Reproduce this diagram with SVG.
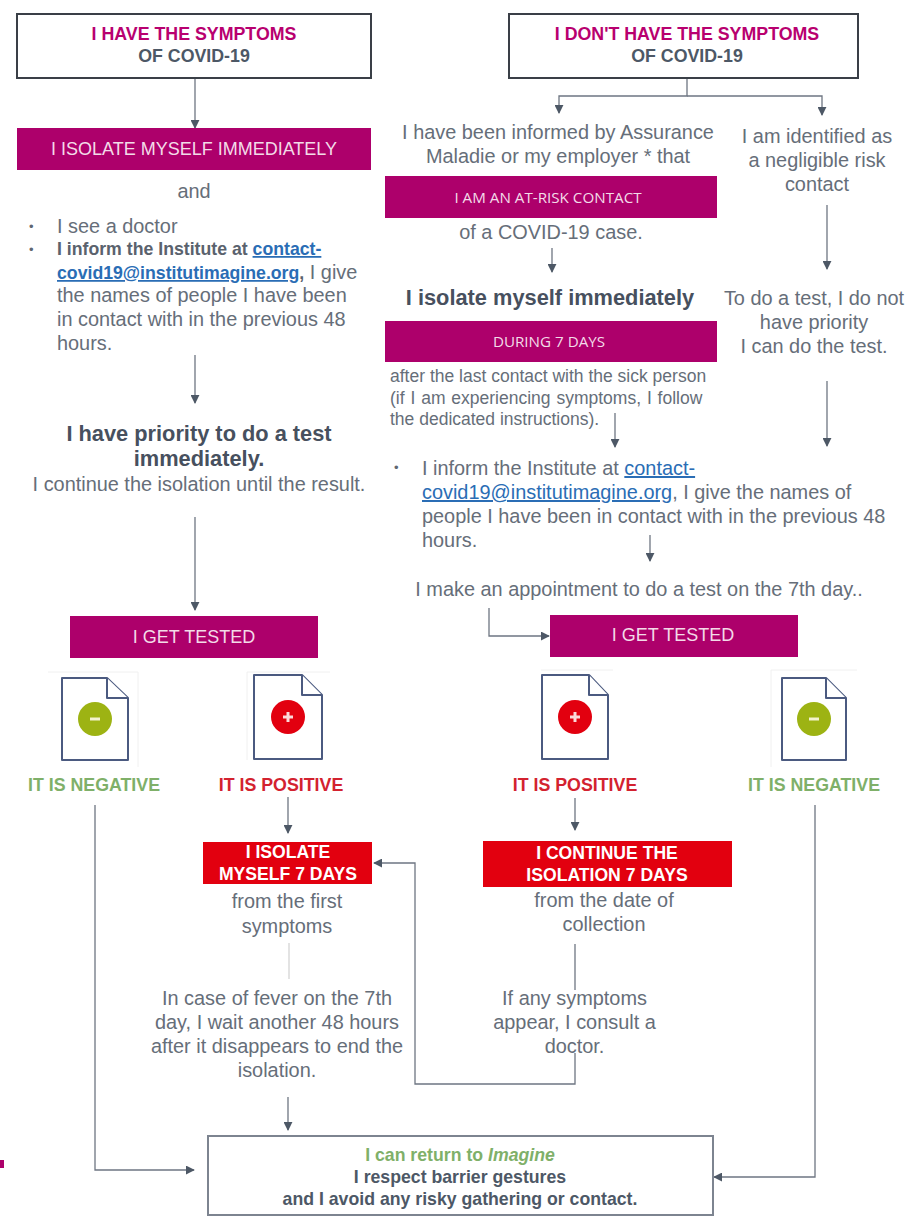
<svg xmlns="http://www.w3.org/2000/svg" width="910" height="1217" viewBox="0 0 910 1217">
<style>
text{font-family:"Liberation Sans",Arial,sans-serif;fill:#666e79;font-size:19.9px}
.c{text-anchor:middle}
.bul{font-size:13px;fill:#5f6772}
.bs{font-weight:bold;font-size:17.7px;fill:#5a626d}
.w{fill:#f3dbe8;font-size:18px}
.os{fill:#f3dbe8;font-size:15.200px;font-family:"Open Sans",sans-serif}
.wb{fill:#fff;font-weight:bold;font-size:17.6px}
.pk{fill:#b8006f;font-weight:bold;font-size:17.8px}
.hd{fill:#4d5866;font-weight:bold;font-size:17.8px}
.big{fill:#47505e;font-weight:bold;font-size:21.8px}
.sm{font-size:17.500px}
.lnk{fill:#2a6db5;text-decoration:underline}
.grn{fill:#7fb069;font-weight:bold;font-size:17.800px}
.red{fill:#d3222f;font-weight:bold;font-size:17.800px}
.ret{font-weight:bold;font-size:17.700px;fill:#4d5866}
.mag{fill:#ad006b}
.rd{fill:#e2000f}
.box{fill:#fff;stroke:#3a3f47;stroke-width:2}
.gbox{fill:#fff;stroke:#7d8490;stroke-width:2}
.doc{fill:#fff;stroke:#4b5a80;stroke-width:2;stroke-linejoin:round}
.la{fill:none;stroke:#6e7682;stroke-width:1.3;marker-end:url(#a)}
.ln{fill:none;stroke:#6e7682;stroke-width:1.3}
.pale{fill:none;stroke:#d0d0d0;stroke-width:1.200}
.fr{fill:none;stroke:#f0f0f0;stroke-width:1}
</style>
<defs><marker id="a" viewBox="0 0 10 10" refX="9" refY="5" markerWidth="9" markerHeight="9" markerUnits="userSpaceOnUse" orient="auto"><path d="M0 0L10 5L0 10Z" fill="#4d5866"/></marker></defs>
<g id="connectors">
<path class="la" d="M195 78V128"/>
<path class="la" d="M195 355V403"/>
<path class="la" d="M195 517V610"/>
<path class="la" d="M687 78V96H559V113"/>
<path class="la" d="M687 96H822V115"/>
<path class="la" d="M552 248V272"/>
<path class="la" d="M827 205V269"/>
<path class="la" d="M827 381V446"/>
<path class="la" d="M615 413V447"/>
<path class="la" d="M650 535V561"/>
<path class="la" d="M489 608V636H549"/>
<path class="la" d="M288 797V833"/>
<path class="la" d="M575 798V830"/>
<path class="la" d="M95 805V1170H194"/>
<path class="la" d="M815 805V1177H714"/>
<path class="ln" d="M575 944V990"/>
<path class="la" d="M575 1053V1084H415V863H374"/>
<path class="pale" d="M289 943V979"/>
<path class="la" d="M288 1097V1130"/>
<path class="fr" d="M48 672H138V767M247 760V672H330M541 670H613M771 767V670H857"/>
</g>
<g id="n-symptoms"><rect class="box" x="17" y="14" width="354" height="64"/><text class="c pk" x="194" y="40">I HAVE THE SYMPTOMS</text><text class="c hd" x="194" y="62">OF COVID-19</text></g>
<g id="n-isolate"><rect class="mag" x="17" y="128" width="354" height="42"/><text class="c w" x="194" y="155">I ISOLATE MYSELF IMMEDIATELY</text></g>
<g id="n-and"><text class="c" x="194" y="198">and</text></g>
<g id="n-actions">
<text class="bul" x="29" y="231">•</text><text x="57" y="233">I see a doctor</text>
<text class="bul" x="29" y="254">•</text><text class="bs" x="57" y="255">I inform the Institute at <tspan class="lnk">contact-</tspan></text>
<text x="57" y="279"><tspan class="lnk bs">covid19@institutimagine.org</tspan><tspan class="bs">,</tspan> I give</text>
<text x="57" y="302">the names of people I have been</text>
<text x="57" y="326">in contact with in the previous 48</text>
<text x="57" y="350">hours.</text>
</g>
<g id="n-priority"><text class="c big" x="199" y="441">I have priority to do a test</text><text class="c big" x="199" y="466">immediately.</text><text class="c" x="199" y="491">I continue the isolation until the result.</text></g>
<g id="n-tested-left"><rect class="mag" x="70" y="616" width="248" height="42"/><text class="c w" x="194" y="643">I GET TESTED</text></g>
<g id="n-neg-left"><path class="doc" d="M62 678H107L128 698V760H62Z"/><path class="doc" d="M107 678V698H128"/><circle cx="95" cy="719" r="17" fill="#9db313"/><rect x="90" y="717.500" width="10" height="3" fill="#f3f3d0"/><text class="c grn" x="94" y="791">IT IS NEGATIVE</text></g>
<g id="n-pos-left"><path class="doc" d="M254 675H302L322 695V759H254Z"/><path class="doc" d="M302 675V695H322"/><circle cx="288" cy="717" r="17" fill="#e2000f"/><path d="M283 717H293M288 712V722" stroke="#fbdada" stroke-width="3"/><text class="c red" x="281" y="791">IT IS POSITIVE</text></g>
<g id="n-isolate7"><rect class="rd" x="203" y="842" width="169" height="42"/><text class="c wb" x="288" y="858">I ISOLATE</text><text class="c wb" x="288" y="880">MYSELF 7 DAYS</text><text class="c" x="287" y="908">from the first</text><text class="c" x="287" y="933">symptoms</text></g>
<g id="n-fever"><text class="c" x="277" y="1005">In case of fever on the 7th</text><text class="c" x="277" y="1029">day, I wait another 48 hours</text><text class="c" x="277" y="1053">after it disappears to end the</text><text class="c" x="277" y="1077">isolation.</text></g>
<g id="n-no-symptoms"><rect class="box" x="509" y="14" width="349" height="64"/><text class="c pk" x="687" y="40">I DON'T HAVE THE SYMPTOMS</text><text class="c hd" x="687" y="62">OF COVID-19</text></g>
<g id="n-informed"><text class="c" x="558" y="139">I have been informed by Assurance</text><text class="c" x="558" y="163">Maladie or my employer * that</text></g>
<g id="n-atrisk"><rect class="mag" x="385" y="176" width="332" height="42"/><text class="c os" x="548" y="203">I AM AN AT-RISK CONTACT</text><text class="c" x="551" y="239">of a COVID-19 case.</text></g>
<g id="n-negligible"><text class="c" x="817" y="143">I am identified as</text><text class="c" x="817" y="167">a negligible risk</text><text class="c" x="817" y="191">contact</text></g>
<g id="n-isolate-right"><text class="c big" x="550" y="305">I isolate myself immediately</text></g>
<g id="n-during"><rect class="mag" x="385" y="321" width="332" height="41"/><text class="c os" x="549" y="347">DURING 7 DAYS</text><text class="sm" x="390" y="382">after the last contact with the sick person</text><text class="sm" x="390" y="404" word-spacing="1">(if I am experiencing symptoms, I follow</text><text class="sm" x="390" y="425">the dedicated instructions).</text></g>
<g id="n-no-priority"><text class="c" x="814" y="305">To do a test, I do not</text><text class="c" x="814" y="329">have priority</text><text class="c" x="814" y="353">I can do the test.</text></g>
<g id="n-inform-right"><text class="bul" x="394" y="472">•</text><text x="422" y="475">I inform the Institute at <tspan class="lnk">contact-</tspan></text><text x="422" y="499"><tspan class="lnk">covid19@institutimagine.org</tspan>, I give the names of</text><text x="422" y="523">people I have been in contact with in the previous 48</text><text x="422" y="547">hours.</text></g>
<g id="n-appointment"><text class="c" x="639" y="596">I make an appointment to do a test on the 7th day..</text></g>
<g id="n-tested-right"><rect class="mag" x="550" y="615" width="248" height="42"/><text class="c w" x="673" y="641">I GET TESTED</text></g>
<g id="n-pos-right"><path class="doc" d="M542 675H589L608 695V759H542Z"/><path class="doc" d="M589 675V695H608"/><circle cx="575" cy="717" r="17" fill="#e2000f"/><path d="M570 717H580M575 712V722" stroke="#fbdada" stroke-width="3"/><text class="c red" x="575" y="791">IT IS POSITIVE</text></g>
<g id="n-neg-right"><path class="doc" d="M782 678H826L846 698V760H782Z"/><path class="doc" d="M826 678V698H846"/><circle cx="814" cy="719" r="17" fill="#9db313"/><rect x="809" y="717.500" width="10" height="3" fill="#f3f3d0"/><text class="c grn" x="814" y="791">IT IS NEGATIVE</text></g>
<g id="n-continue"><rect class="rd" x="483" y="841" width="249" height="46"/><text class="c wb" x="607" y="859">I CONTINUE THE</text><text class="c wb" x="607" y="881">ISOLATION 7 DAYS</text><text class="c" x="604" y="907">from the date of</text><text class="c" x="604" y="931">collection</text></g>
<g id="n-any-symptoms"><text class="c" x="574.500" y="1005">If any symptoms</text><text class="c" x="574.500" y="1029">appear, I consult a</text><text class="c" x="574.500" y="1053">doctor.</text></g>
<g id="n-return"><rect class="gbox" x="208" y="1136" width="505" height="79"/><text class="c ret" x="460" y="1161" style="fill:#7fb069">I can return to <tspan font-style="italic">Imagine</tspan></text><text class="c ret" x="460" y="1183">I respect barrier gestures</text><text class="c ret" x="460" y="1205">and I avoid any risky gathering or contact.</text></g>
<rect id="n-mark" class="mag" x="0" y="1160" width="4" height="8"/>
</svg>
